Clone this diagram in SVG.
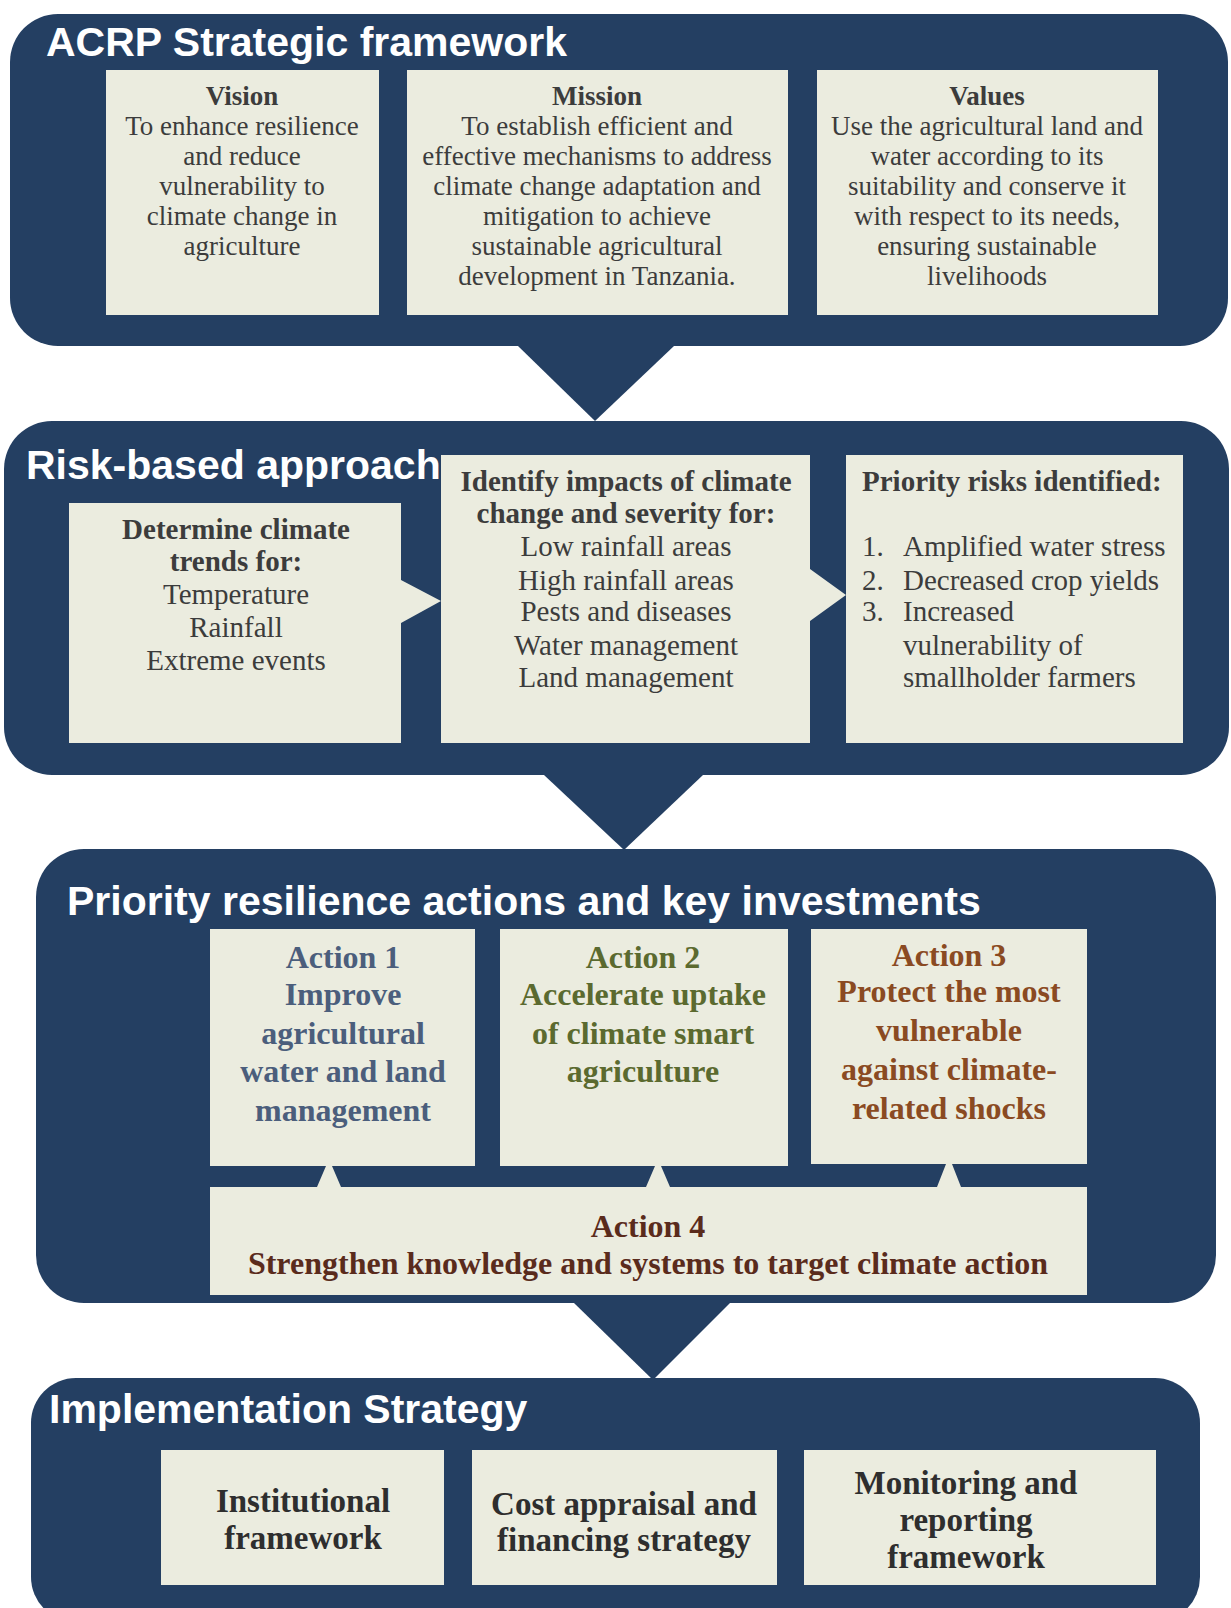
<svg xmlns="http://www.w3.org/2000/svg" width="1231" height="1608" viewBox="0 0 1231 1608">
<style>
.panel{fill:#243f62}
.box{fill:#ebecdf}
.title{font-family:"Liberation Sans",Arial,sans-serif;font-weight:bold;font-size:41px;fill:#ffffff}
.t{font-family:"Liberation Serif","Times New Roman",serif;font-size:27px;fill:#3c3c3c;text-anchor:middle}
.r{font-family:"Liberation Serif","Times New Roman",serif;font-size:29px;fill:#3c3c3c;text-anchor:middle}
.rl{font-family:"Liberation Serif","Times New Roman",serif;font-size:29px;fill:#3c3c3c}
.b{font-weight:bold}
.act{font-family:"Liberation Serif","Times New Roman",serif;font-weight:bold;font-size:32px;text-anchor:middle}
.imp{font-family:"Liberation Serif","Times New Roman",serif;font-weight:bold;font-size:33px;fill:#2e2e2e;text-anchor:middle}
</style>
<rect width="1231" height="1608" fill="#ffffff"/>
<g id="connectors">
<polygon class="panel" points="518,330 674,330 674,346 595,421 518,346"/>
<polygon class="panel" points="544,765 703,765 703,775 624,850 544,775"/>
<polygon class="panel" points="574,1295 730,1295 730,1303 653,1380 574,1303"/>
</g>
<g id="panel-acrp">
<rect class="panel" x="10" y="14" width="1218" height="332" rx="48"/>
<text class="title" x="46" y="56">ACRP Strategic framework</text>
</g>
<g id="vision">
<rect class="box" x="106" y="70" width="273" height="245"/>
<text class="t" x="242" y="105"><tspan class="b">Vision</tspan><tspan x="242" dy="30">To enhance resilience</tspan><tspan x="242" dy="30">and reduce</tspan><tspan x="242" dy="30">vulnerability to</tspan><tspan x="242" dy="30">climate change in</tspan><tspan x="242" dy="30">agriculture</tspan></text>
</g>
<g id="mission">
<rect class="box" x="407" y="70" width="381" height="245"/>
<text class="t" x="597" y="105"><tspan class="b">Mission</tspan><tspan x="597" dy="30">To establish efficient and</tspan><tspan x="597" dy="30">effective mechanisms to address</tspan><tspan x="597" dy="30">climate change adaptation and</tspan><tspan x="597" dy="30">mitigation to achieve</tspan><tspan x="597" dy="30">sustainable agricultural</tspan><tspan x="597" dy="30">development in Tanzania.</tspan></text>
</g>
<g id="values">
<rect class="box" x="817" y="70" width="341" height="245"/>
<text class="t" x="987" y="105"><tspan class="b">Values</tspan><tspan x="987" dy="30">Use the agricultural land and</tspan><tspan x="987" dy="30">water according to its</tspan><tspan x="987" dy="30">suitability and conserve it</tspan><tspan x="987" dy="30">with respect to its needs,</tspan><tspan x="987" dy="30">ensuring sustainable</tspan><tspan x="987" dy="30">livelihoods</tspan></text>
</g>
<g id="panel-risk">
<rect class="panel" x="4" y="421" width="1225" height="354" rx="48"/>
<text class="title" x="26" y="479">Risk-based approach</text>
</g>
<g id="climate-trends">
<polygon class="box" points="69,503 401,503 401,580 441,601 401,623 401,743 69,743"/>
<text class="r" x="236" y="539"><tspan class="b">Determine climate</tspan><tspan class="b" x="236" dy="32">trends for:</tspan><tspan x="236" dy="33">Temperature</tspan><tspan x="236" dy="33">Rainfall</tspan><tspan x="236" dy="33">Extreme events</tspan></text>
</g>
<g id="impacts">
<polygon class="box" points="441,455 810,455 810,569 846,595 810,621 810,743 441,743"/>
<text class="r" x="626" y="491"><tspan class="b">Identify impacts of climate</tspan><tspan class="b" x="626" dy="32">change and severity for:</tspan><tspan x="626" dy="33">Low rainfall areas</tspan><tspan x="626" dy="34">High rainfall areas</tspan><tspan x="626" dy="31">Pests and diseases</tspan><tspan x="626" dy="34">Water management</tspan><tspan x="626" dy="32">Land management</tspan></text>
</g>
<g id="priority-risks">
<rect class="box" x="846" y="455" width="337" height="288"/>
<text class="rl b" x="862" y="491">Priority risks identified:</text>
<text class="rl"><tspan x="862" y="556">1.</tspan><tspan x="903" y="556">Amplified water stress</tspan><tspan x="862" y="590">2.</tspan><tspan x="903" y="590">Decreased crop yields</tspan><tspan x="862" y="621">3.</tspan><tspan x="903" y="621">Increased</tspan><tspan x="903" y="655">vulnerability of</tspan><tspan x="903" y="687">smallholder farmers</tspan></text>
</g>
<g id="panel-actions">
<rect class="panel" x="36" y="849" width="1180" height="454" rx="48"/>
<text class="title" x="67" y="915">Priority resilience actions and key investments</text>
</g>
<g id="action1">
<rect class="box" x="210" y="929" width="265" height="237"/>
<text class="act" fill="#4b5e7c" x="343" y="968"><tspan>Action 1</tspan><tspan x="343" dy="37">Improve</tspan><tspan x="343" dy="39">agricultural</tspan><tspan x="343" dy="38">water and land</tspan><tspan x="343" dy="39">management</tspan></text>
</g>
<g id="action2">
<rect class="box" x="500" y="929" width="288" height="237"/>
<text class="act" fill="#5b6a2f" x="643" y="968"><tspan>Action 2</tspan><tspan x="643" dy="37">Accelerate uptake</tspan><tspan x="643" dy="39">of climate smart</tspan><tspan x="643" dy="38">agriculture</tspan></text>
</g>
<g id="action3">
<rect class="box" x="811" y="929" width="276" height="235"/>
<text class="act" fill="#8a4a22" x="949" y="966"><tspan>Action 3</tspan><tspan x="949" dy="36">Protect the most</tspan><tspan x="949" dy="39">vulnerable</tspan><tspan x="949" dy="39">against climate-</tspan><tspan x="949" dy="39">related shocks</tspan></text>
</g>
<g id="action4">
<polygon class="box" points="210,1187 317,1187 326,1166 332,1166 341,1187 646,1187 655,1166 661,1166 670,1187 937,1187 946,1164 952,1164 961,1187 1087,1187 1087,1295 210,1295"/>
<text class="act" fill="#5a2b1c" x="648" y="1237"><tspan>Action 4</tspan><tspan x="648" dy="37">Strengthen knowledge and systems to target climate action</tspan></text>
</g>
<g id="panel-impl">
<rect class="panel" x="31" y="1378" width="1169" height="244" rx="45"/>
<text class="title" x="49" y="1423">Implementation Strategy</text>
</g>
<g id="institutional">
<rect class="box" x="161" y="1450" width="283" height="135"/>
<text class="imp" x="303" y="1512"><tspan>Institutional</tspan><tspan x="303" dy="37">framework</tspan></text>
</g>
<g id="cost">
<rect class="box" x="472" y="1450" width="305" height="135"/>
<text class="imp" x="624" y="1515"><tspan>Cost appraisal and</tspan><tspan x="624" dy="36">financing strategy</tspan></text>
</g>
<g id="monitoring">
<rect class="box" x="804" y="1450" width="352" height="135"/>
<text class="imp" x="966" y="1494"><tspan>Monitoring and</tspan><tspan x="966" dy="37">reporting</tspan><tspan x="966" dy="37">framework</tspan></text>
</g>
</svg>
